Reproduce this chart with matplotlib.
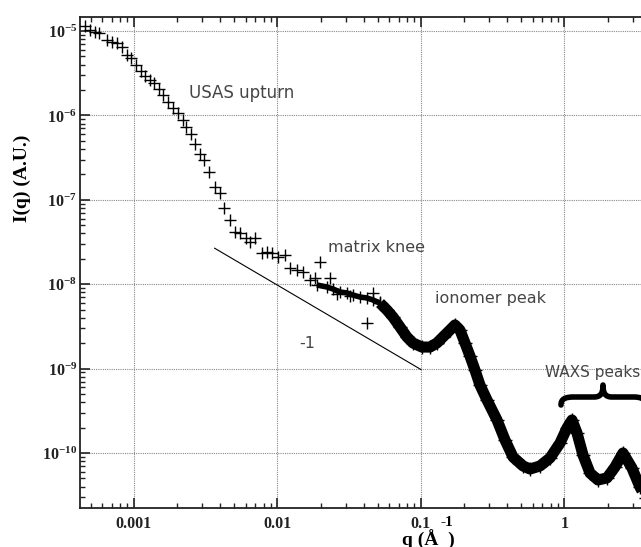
import numpy as np
import matplotlib
matplotlib.use("Agg")
import matplotlib.pyplot as plt
from matplotlib.ticker import FixedLocator, FuncFormatter, LogLocator, NullFormatter
from matplotlib.path import Path
from matplotlib.patches import PathPatch

plt.rcParams["mathtext.fontset"] = "custom"
plt.rcParams["mathtext.rm"] = "Liberation Serif"
plt.rcParams["mathtext.bf"] = "Liberation Serif:bold"

# USAS region, individual points (q in 1/A, I in A.U.)
q_usas = [4.56e-4, 4.93e-4, 5.35e-4, 5.70e-4, 6.49e-4, 7.03e-4, 7.62e-4, 8.25e-4,
          8.94e-4, 9.53e-4, 1.03e-3, 1.12e-3, 1.19e-3, 1.29e-3, 1.38e-3, 1.49e-3,
          1.59e-3, 1.73e-3, 1.87e-3, 2.03e-3, 2.19e-3, 2.30e-3, 2.50e-3, 2.66e-3,
          2.88e-3, 3.08e-3, 3.33e-3, 3.67e-3, 3.97e-3, 4.24e-3, 4.67e-3, 5.06e-3,
          5.48e-3, 6.03e-3, 6.43e-3, 6.97e-3, 7.80e-3, 8.46e-3, 9.17e-3, 1.01e-2,
          1.13e-2, 1.22e-2, 1.37e-2, 1.51e-2, 1.68e-2, 1.82e-2, 1.98e-2, 2.32e-2,
          2.60e-2, 3.20e-2, 4.21e-2, 4.60e-2]
I_usas = [1.15e-5, 1.03e-5, 9.70e-6, 9.46e-6, 7.82e-6, 7.41e-6, 7.21e-6, 6.46e-6,
          5.20e-6, 4.79e-6, 3.95e-6, 3.36e-6, 2.93e-6, 2.63e-6, 2.42e-6, 2.05e-6,
          1.75e-6, 1.44e-6, 1.22e-6, 1.07e-6, 8.81e-7, 7.29e-7, 6.02e-7, 4.58e-7,
          3.49e-7, 2.96e-7, 2.13e-7, 1.42e-7, 1.20e-7, 8.00e-8, 5.77e-8, 4.15e-8,
          4.04e-8, 3.53e-8, 3.16e-8, 3.53e-8, 2.34e-8, 2.41e-8, 2.34e-8, 2.10e-8,
          2.22e-8, 1.56e-8, 1.47e-8, 1.40e-8, 1.12e-8, 1.18e-8, 1.83e-8, 1.18e-8,
          7.60e-9, 7.20e-9, 3.47e-9, 7.80e-9]

# matrix knee region (dense data, thin band)
q_knee = [0.01885, 0.02213, 0.02436, 0.02729, 0.03051, 0.03357, 0.03758, 0.04206,
          0.04634, 0.05182]
I_knee = [9.78e-9, 9.27e-9, 8.78e-9, 8.09e-9, 7.87e-9, 7.45e-9, 7.05e-9, 6.87e-9,
          6.50e-9, 5.98e-9]

# ionomer + WAXS region (dense data, thick band)
q_peaks = [0.05182, 0.05798, 0.06383, 0.07143, 0.07985, 0.08795, 0.1016,
           0.1156, 0.1292, 0.1423, 0.1591, 0.1725, 0.1870, 0.2027, 0.2195, 0.2378,
           0.2577, 0.2884, 0.3388, 0.3849, 0.4377, 0.5143, 0.5754, 0.6752, 0.7927,
           0.9306, 1.041, 1.128, 1.222, 1.346, 1.506, 1.711, 1.977, 2.248, 2.557,
           2.952, 3.357, 3.70]
I_peaks = [5.98e-9, 4.94e-9, 4.08e-9, 3.11e-9, 2.37e-9, 2.01e-9, 1.80e-9,
           1.80e-9, 2.01e-9, 2.37e-9, 2.86e-9, 3.29e-9, 2.86e-9, 2.01e-9, 1.41e-9,
           9.62e-10, 6.39e-10, 4.25e-10, 2.46e-10, 1.43e-10, 8.97e-11, 7.02e-11,
           6.46e-11, 7.02e-11, 8.73e-11, 1.31e-10, 1.98e-10, 2.46e-10, 1.73e-10,
           9.46e-11, 5.79e-11, 4.79e-11, 5.06e-11, 6.82e-11, 1.00e-10, 6.64e-11,
           3.95e-11, 2.90e-11]

# -1 slope guide line
q_slope = [0.00365, 0.1]
I_slope = [2.67e-8, 9.75e-10]

xticks = [0.001, 0.01, 0.1, 1]
xlabels = ["0.001", "0.01", "0.1", "1"]

W, H = 641, 547
fig = plt.figure(figsize=(W / 100, H / 100), dpi=100)
ax = fig.add_axes([80 / W, 39 / H, 587 / W, 491 / H])
ax.set_xscale("log")
ax.set_yscale("log")
ax.set_xlim(4.21e-4, 5.18)
ax.set_ylim(2.23e-11, 1.466e-5)

ax.plot(q_knee, I_knee, color="black", lw=4, solid_capstyle="butt",
        marker="+", ms=9, mew=1.0, zorder=3)
ax.plot(q_peaks, I_peaks, color="black", lw=8, solid_joinstyle="round",
        solid_capstyle="butt", marker="+", ms=10, mew=1.0, zorder=3)
ax.plot(q_usas, I_usas, ls="none", color="black", marker="+", ms=8.5, mew=1.0, zorder=3)
ax.plot(q_slope, I_slope, color="black", lw=0.8, zorder=3)

ax.grid(True, which="major", color="#888888", ls=(0, (1, 1)), lw=0.8)
ax.set_axisbelow(True)

ax.xaxis.set_major_locator(FixedLocator(xticks))
ax.xaxis.set_major_formatter(FuncFormatter(lambda v, p: xlabels[xticks.index(v)] if v in xticks else ""))
ax.xaxis.set_minor_locator(LogLocator(base=10, subs=np.arange(2, 10), numticks=20))
ax.xaxis.set_minor_formatter(NullFormatter())
ax.yaxis.set_major_locator(LogLocator(base=10, numticks=20))
ax.yaxis.set_major_formatter(FuncFormatter(lambda v, p: r"$\mathbf{10^{%d}}$" % round(np.log10(v))))
ax.yaxis.set_minor_locator(LogLocator(base=10, subs=np.arange(2, 10), numticks=20))
ax.yaxis.set_minor_formatter(NullFormatter())

ax.tick_params(which="both", direction="in", top=True, right=True, colors="#222222")
ax.tick_params(which="major", length=7, width=1.2)
ax.tick_params(which="minor", length=3.5, width=1.0)
ax.tick_params(axis="x", which="major", pad=6, labelsize=11.5)
ax.tick_params(axis="y", which="major", pad=2, labelsize=11.5)
for lab in ax.get_xticklabels():
    lab.set_fontfamily("Liberation Serif")
    lab.set_fontweight("bold")
for s in ax.spines.values():
    s.set_linewidth(1.3)
    s.set_color("#222222")

# annotations
tc = "#454545"
fig.text(189 / W, 1 - 93 / H, "USAS upturn", fontsize=12, color=tc, va="center")
fig.text(328 / W, 1 - 247 / H, "matrix knee", fontsize=11.5, color=tc, va="center")
fig.text(435 / W, 1 - 299 / H, "ionomer peak", fontsize=11.5, color=tc, va="center")
fig.text(299 / W, 1 - 344 / H, "-1", fontsize=11.5, color=tc, va="center")
fig.text(545 / W, 1 - 373 / H, "WAXS peaks", fontsize=11, color=tc, va="center")

# brace over WAXS peaks (pixel coords, y down)
pts = [(561, 405),
       (561, 399), (565, 397), (574, 397),
       (594, 397),
       (601, 397), (603, 393), (603, 385),
       (603, 393), (605, 397), (612, 397),
       (633, 397),
       (642, 397), (645, 399), (645, 405)]
codes = [Path.MOVETO,
         Path.CURVE4, Path.CURVE4, Path.CURVE4,
         Path.LINETO,
         Path.CURVE4, Path.CURVE4, Path.CURVE4,
         Path.CURVE4, Path.CURVE4, Path.CURVE4,
         Path.LINETO,
         Path.CURVE4, Path.CURVE4, Path.CURVE4]
verts = [(x / W, 1 - y / H) for x, y in pts]
fig.patches.append(PathPatch(Path(verts, codes), transform=fig.transFigure,
                             fill=False, lw=4, color="black", capstyle="round",
                             joinstyle="round"))

# axis labels
fig.text(22 / W, 1 - 178 / H, "I(q) (A.U.)", rotation=90, fontsize=14, fontweight="bold",
         family="Liberation Serif", ha="center", va="center")
fig.text(428 / W, 1 - 540 / H, "q (Å  )", fontsize=14, fontweight="bold",
         family="Liberation Serif", ha="center", va="center")
fig.text(447 / W, 1 - 523 / H, "-1", fontsize=11, fontweight="bold",
         family="Liberation Serif", ha="center", va="center")

fig.savefig("out.png", dpi=100)
